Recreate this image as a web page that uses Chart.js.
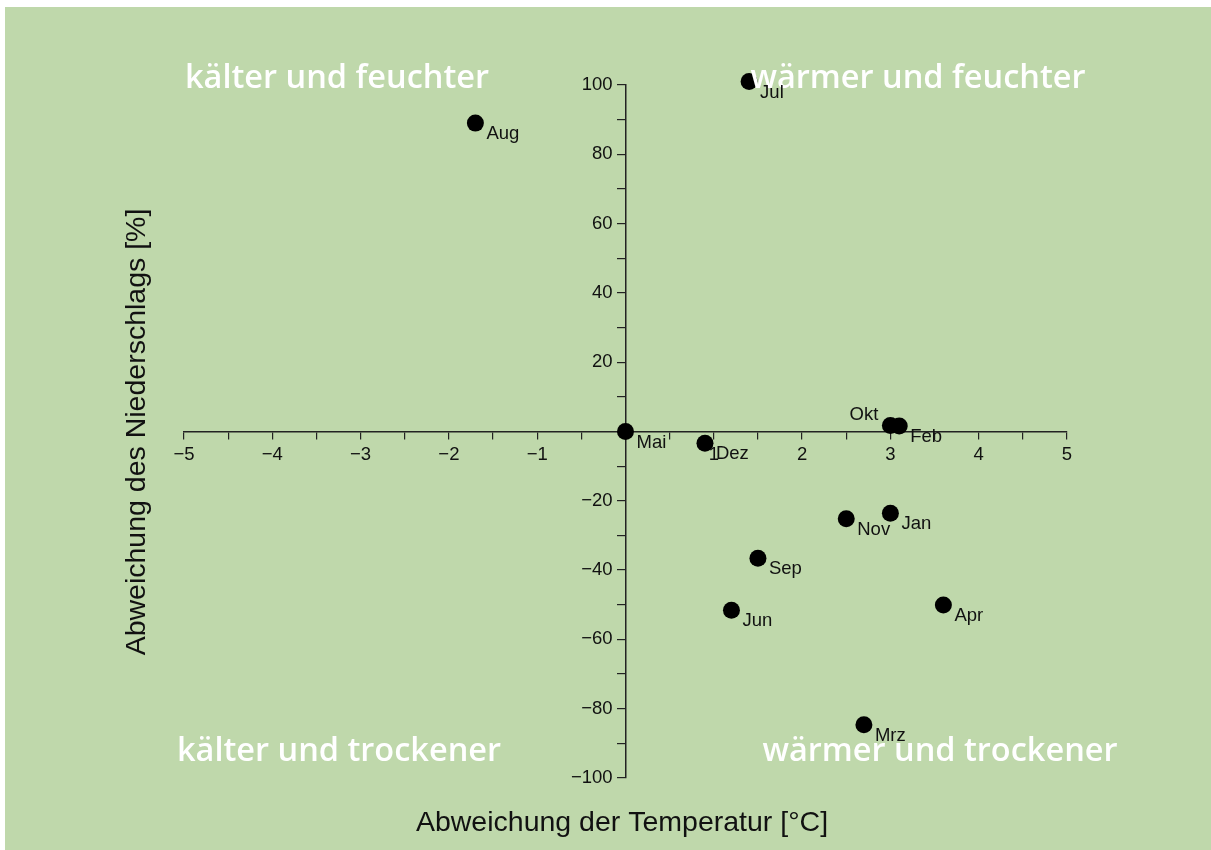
<!DOCTYPE html>
<html>
<head>
<meta charset="utf-8">
<script src="https://cdn.jsdelivr.net/npm/chart.js@4"></script>
<style>
    html, body { margin: 0; padding: 0; background: #fff; }
    #wrap { width: 1211px; height: 850px; }
</style>
</head>
<body>
<div id="wrap"><canvas id="myChart" width="1211" height="850"></canvas></div>
<script>
// data
var months = ["Jan", "Feb", "Mrz", "Apr", "Mai", "Jun", "Jul", "Aug", "Sep", "Okt", "Nov", "Dez"]
var temp = [3.0, 3.1, 2.7, 3.6, 0.0, 1.2, 1.4, -1.7, 1.5, 3.0, 2.5, 0.9]
var rain = [-23.6, 1.6, -84.6, -50.1, 0.0, -51.6, 101, 89, -36.6, 1.7, -25.2, -3.4]
var quadrants = ["kälter und feuchter", "wärmer und feuchter", "kälter und trockener", "wärmer und trockener"]
var xTitle = "Abweichung der Temperatur [°C]"
var yTitle = "Abweichung des Niederschlags [%]"

var points = []
for (var i = 0; i < months.length; i++) {
    points.push({ x: temp[i], y: rain[i] })
}

function fmt(v) {
    if (v == 0) return ''
    return v < 0 ? '\u2212' + Math.abs(v) : '' + v
}

var sans = "'Liberation Sans', Arial, sans-serif"
Chart.defaults.font.family = sans
Chart.defaults.color = '#111'

var background = {
    id: 'background',
    beforeDraw: function (chart) {
        var ctx = chart.ctx
        ctx.save()
        ctx.fillStyle = '#fff'
        ctx.fillRect(0, 0, chart.width, chart.height)
        ctx.fillStyle = '#bfd8ab'
        ctx.fillRect(5, 7, chart.width - 5, chart.height - 7)
        ctx.restore()
    }
}

var titles = {
    id: 'titles',
    afterDraw: function (chart) {
        var ctx = chart.ctx
        ctx.save()
        ctx.fillStyle = '#111'
        ctx.font = '28.5px ' + sans
        ctx.textAlign = 'center'
        ctx.textBaseline = 'middle'
        ctx.fillText(xTitle, 622, 823)
        ctx.translate(137, 432)
        ctx.rotate(-Math.PI / 2)
        ctx.fillText(yTitle, 0, 0)
        ctx.restore()
    }
}

var quadrantText = {
    id: 'quadrantText',
    afterDatasetsDraw: function (chart) {
        var ctx = chart.ctx
        var spots = [[337, 88], [918, 88], [339, 761], [940, 761]]
        ctx.save()
        ctx.fillStyle = '#fff'
        ctx.font = "600 32.5px 'Open Sans', sans-serif"
        ctx.textAlign = 'center'
        ctx.textBaseline = 'alphabetic'
        quadrants.forEach(function (q, i) {
            ctx.fillText(q, spots[i][0], spots[i][1])
        })

        // month names next to the dots
        var meta = chart.getDatasetMeta(0)
        ctx.fillStyle = '#111'
        ctx.font = '18.5px ' + sans
        ctx.textBaseline = 'middle'
        meta.data.forEach(function (pt, i) {
            if (months[i] == 'Okt') {
                ctx.textAlign = 'right'
                ctx.fillText(months[i], pt.x - 12, pt.y - 11)
            } else {
                ctx.textAlign = 'left'
                ctx.fillText(months[i], pt.x + 11, pt.y + 11)
            }
        })
        ctx.restore()
    }
}

var myCharts = document.getElementById("myChart").getContext("2d")
var chart = new Chart(myCharts, {
    type: 'scatter',
    data: {
        datasets: [
            {
                label: "Monate",
                data: points,
                backgroundColor: "#000",
                borderWidth: 0,
                pointRadius: 8.5,
                pointHoverRadius: 8.5,
                clip: false
            }
        ]
    },
    options: {
        responsive: false,
        animation: false,
        events: [],
        layout: { padding: { left: 184, top: 85, right: 144, bottom: 72 } },
        plugins: {
            legend: { display: false },
            tooltip: { enabled: false }
        },
        scales: {
            x: {
                type: 'linear',
                position: { y: 0 },
                min: -5,
                max: 5,
                border: { display: true, color: '#222', width: 1.5 },
                grid: { drawOnChartArea: false, drawTicks: true, tickLength: 7, color: '#222', lineWidth: 1.2 },
                ticks: {
                    stepSize: 0.5,
                    autoSkip: false,
                    maxRotation: 0,
                    padding: 5,
                    font: { size: 18.5 },
                    callback: function (v) { return Number.isInteger(v) ? fmt(v) : '' }
                }
            },
            y: {
                type: 'linear',
                position: { x: 0 },
                min: -100,
                max: 100,
                border: { display: true, color: '#222', width: 1.5 },
                grid: { drawOnChartArea: false, drawTicks: true, tickLength: 8, color: '#222', lineWidth: 1.2 },
                ticks: {
                    stepSize: 10,
                    autoSkip: false,
                    font: { size: 18.5 },
                    // labels sit right on the axis otherwise, so pad them with spaces
                    callback: function (v) { return v % 20 == 0 && v != 0 ? fmt(v) + '\u2002\u2009' : '' }
                }
            }
        }
    },
    plugins: [background, quadrantText, titles]
})
</script>
</body>
</html>
